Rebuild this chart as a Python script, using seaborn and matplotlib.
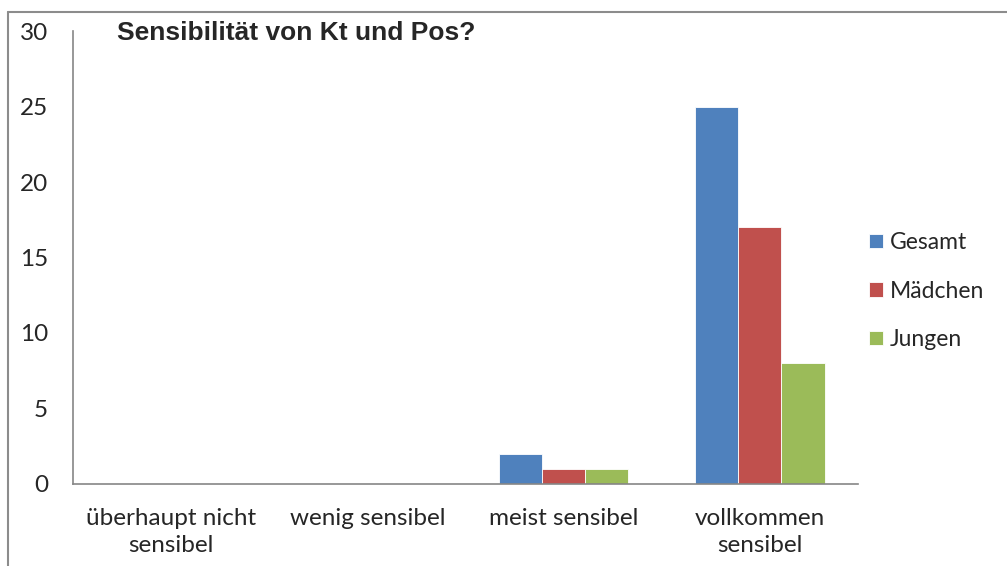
import matplotlib
matplotlib.use("Agg")
import matplotlib.pyplot as plt
import seaborn as sns
import pandas as pd

# data
categories = ["überhaupt nicht\nsensibel", "wenig sensibel", "meist sensibel", "vollkommen\nsensibel"]
series = ["Gesamt", "Mädchen", "Jungen"]
gesamt = [0, 0, 2, 25]
maedchen = [0, 0, 1, 17]
jungen = [0, 0, 1, 8]
colors = ["#4F81BD", "#C0504D", "#9BBB59"]

rows = []
for name, vals in zip(series, [gesamt, maedchen, jungen]):
    for cat, v in zip(categories, vals):
        rows.append({"Kategorie": cat, "Gruppe": name, "Anzahl": v})
df = pd.DataFrame(rows)

sns.set_style("white")
plt.rcParams["font.family"] = ["Lato", "DejaVu Sans"]

fig = plt.figure(figsize=(10.07, 5.66), dpi=100)
ax = fig.add_axes([0.0725, 0.145, 0.7795, 0.80])

sns.barplot(data=df, x="Kategorie", y="Anzahl", hue="Gruppe", order=categories,
            hue_order=series, palette=colors, saturation=1, width=0.66,
            edgecolor="white", linewidth=0.6, ax=ax, legend=True)

ax.set_ylim(0, 30)
ax.set_xlim(-0.5, 3.5)
ax.set_yticks(range(0, 31, 5))
ax.set_xlabel("")
ax.set_ylabel("")

axis_grey = "#868686"
for side in ["top", "right"]:
    ax.spines[side].set_visible(False)
for side in ["left", "bottom"]:
    ax.spines[side].set_color(axis_grey)
    ax.spines[side].set_linewidth(1.2)

# y ticks outside, x ticks at group boundaries
ax.tick_params(axis="y", which="major", direction="out", length=6, width=1.2,
               color=axis_grey, labelsize=17.5, pad=12)
ax.set_xticks([-0.5, 0.5, 1.5, 2.5, 3.5], minor=True)
ax.tick_params(axis="x", which="major", length=0, labelsize=17.5, pad=17)
ax.tick_params(axis="x", which="minor", direction="out", length=6, width=1.2,
               color=axis_grey)
for lbl in ax.get_xticklabels():
    lbl.set_linespacing(1.4)

fig.text(117 / 1007, 1 - 33 / 566, "Sensibilität von Kt und Pos?",
         fontsize=19, fontweight="bold", family=["Liberation Sans", "DejaVu Sans"],
         ha="left", va="center")

handles, labels = ax.get_legend_handles_labels()
ax.legend(handles, labels, loc="center left", bbox_to_anchor=(864 / 1007, 1 - 291 / 566),
          bbox_transform=fig.transFigure, frameon=False, fontsize=16.5,
          handlelength=0.62, handleheight=0.62, handletextpad=0.3, labelspacing=1.2,
          borderpad=0.2, borderaxespad=0)

# chart frame (left and top edges visible)
fig.add_artist(plt.Line2D([8 / 1007, 8 / 1007], [0, 1 - 12 / 566], color="#8c8c8c",
                          linewidth=1.5, transform=fig.transFigure))
fig.add_artist(plt.Line2D([8 / 1007, 1], [1 - 12 / 566, 1 - 12 / 566], color="#8c8c8c",
                          linewidth=1.5, transform=fig.transFigure))

fig.savefig("out.png", dpi=100)
